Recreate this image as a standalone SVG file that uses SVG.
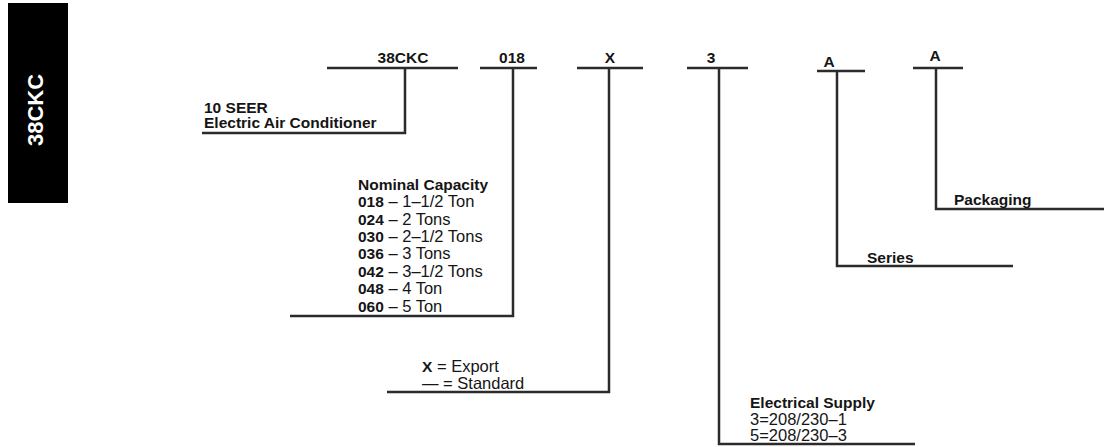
<svg xmlns="http://www.w3.org/2000/svg" width="1104" height="447" viewBox="0 0 1104 447">
<style>
text{font-family:"Liberation Sans",Arial,sans-serif;fill:#151515;font-size:16.5px}
.b{font-weight:bold;font-size:15.5px}
.ln{stroke:#2b2b2b;stroke-width:2.5;fill:none}
</style>
<rect width="1104" height="447" fill="#fff"/>
<g id="tab">
<rect x="8" y="3" width="60" height="200" fill="#000"/>
<text class="b" x="0" y="0" transform="translate(43,110) rotate(-90)" text-anchor="middle" style="fill:#fff;font-size:22px">38CKC</text>
</g>
<g id="connectors">
<path class="ln" d="M327 68H458M405 68V133H202"/>
<path class="ln" d="M480 68H537M513 68V316H290"/>
<path class="ln" d="M577 68H643M609 68V392H387"/>
<path class="ln" d="M687 68H748M719 68V444H915"/>
<path class="ln" d="M817 71H865M837 71V266H1013"/>
<path class="ln" d="M913 68H963M936 68V209H1104"/>
</g>
<g id="code-38ckc"><text class="b" x="403" y="63" text-anchor="middle">38CKC</text></g>
<g id="code-018"><text class="b" x="512" y="63" text-anchor="middle">018</text></g>
<g id="code-x"><text class="b" x="610" y="63" text-anchor="middle">X</text></g>
<g id="code-3"><text class="b" x="711" y="63" text-anchor="middle">3</text></g>
<g id="code-a1"><text class="b" x="829" y="67" text-anchor="middle">A</text></g>
<g id="code-a2"><text class="b" x="935" y="61" text-anchor="middle">A</text></g>
<g id="desc-type">
<text class="b" x="204" y="113">10 SEER</text>
<text class="b" x="204" y="128">Electric Air Conditioner</text>
</g>
<g id="desc-capacity">
<text class="b" x="358" y="190">Nominal Capacity</text>
<text x="358" y="207"><tspan class="b">018</tspan> – 1–1/2 Ton</text>
<text x="358" y="225"><tspan class="b">024</tspan> – 2 Tons</text>
<text x="358" y="242"><tspan class="b">030</tspan> – 2–1/2 Tons</text>
<text x="358" y="259"><tspan class="b">036</tspan> – 3 Tons</text>
<text x="358" y="277"><tspan class="b">042</tspan> – 3–1/2 Tons</text>
<text x="358" y="294"><tspan class="b">048</tspan> – 4 Ton</text>
<text x="358" y="312"><tspan class="b">060</tspan> – 5 Ton</text>
</g>
<g id="desc-export">
<text x="422" y="372"><tspan class="b">X</tspan> = Export</text>
<text x="422" y="389">— = Standard</text>
</g>
<g id="desc-electrical">
<text class="b" x="750" y="408">Electrical Supply</text>
<text x="750" y="425">3=208/230–1</text>
<text x="750" y="441">5=208/230–3</text>
</g>
<g id="desc-series"><text class="b" x="867" y="263">Series</text></g>
<g id="desc-packaging"><text class="b" x="954" y="205">Packaging</text></g>
</svg>
